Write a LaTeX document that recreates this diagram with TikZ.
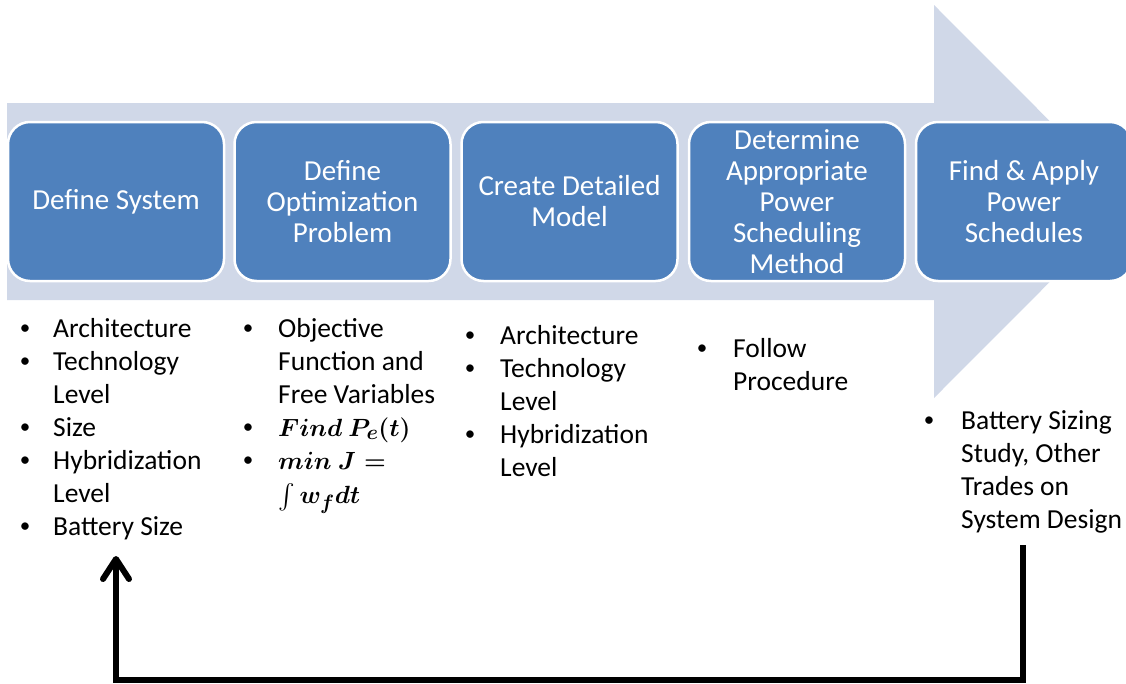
\documentclass[tikz,border=0pt]{standalone}
\usepackage{fontspec}
\setmainfont{Carlito}
\usepackage{amsmath}
\usetikzlibrary{arrows.meta}
\definecolor{bandfill}{HTML}{D0D8E8}
\definecolor{stepfill}{HTML}{4F81BD}
% small list bullet, centred #1 to the left of the item text
\newcommand{\smallbullet}{\raisebox{2.2pt}{\fontsize{21}{21}\selectfont\textbullet}}
\newcommand{\bi}[1]{\llap{\makebox[0pt][c]{\smallbullet}\hspace{#1}}}
\begin{document}
\begin{tikzpicture}[x=1pt,y=-1pt,
  stepbox/.style={draw=white, line width=2.5pt, fill=stepfill, rounded corners=22pt,
    minimum width=216pt, minimum height=159pt, text=white,
    font=\fontsize{29}{31}\selectfont, align=center, inner sep=0pt},
  itemlist/.style={anchor=base west, inner sep=0pt, font=\fontsize{27.5}{33}\selectfont},
  loopline/.style={line width=6pt, line join=miter}]
\useasboundingbox (0,0) rectangle (1126,683);
\clip (0,0) rectangle (1126,683);

% background process arrow
\fill[bandfill] (7,103) -- (934,103) -- (934,5) -- (1130,201.5) -- (934,398)
  -- (934,300) -- (7,300) -- cycle;

% process steps
\node[stepbox] (s1) at (116,201.5) {Define System};
\node[stepbox] (s2) at (342.5,201.5) {Define\\Optimization\\Problem};
\node[stepbox] (s3) at (569.5,201.5) {Create Detailed\\Model};
\node[stepbox] (s4) at (797,201.5) {Determine\\Appropriate\\Power\\Scheduling\\Method};
\node[stepbox] (s5) at (1024,201.5) {Find \& Apply\\Power\\Schedules};

% bullet lists under each step
\node[itemlist] (l1) at (53,337) {\begin{tabular}[t]{@{}l@{}}
\bi{28pt}Architecture\\
\bi{28pt}Technology\\
Level\\
\bi{28pt}Size\\
\bi{28pt}Hybridization\\
Level\\
\bi{28pt}Battery Size
\end{tabular}};
\node[itemlist] (l2) at (278,337) {\begin{tabular}[t]{@{}l@{}}
\bi{30pt}Objective\\
Function and\\
Free Variables\\
\bi{30pt}{\boldmath$Find\ P_e(t)$}\\
\bi{30pt}{\boldmath$min\ J =$}\\[1.5pt]
\smash{\boldmath$\int w_f dt$}
\end{tabular}};
\node[itemlist] (l3) at (500,344) {\begin{tabular}[t]{@{}l@{}}
\bi{30pt}Architecture\\
\bi{30pt}Technology\\
Level\\
\bi{30pt}Hybridization\\
Level
\end{tabular}};
\node[itemlist] (l4) at (733,357) {\begin{tabular}[t]{@{}l@{}}
\bi{31pt}Follow\\
Procedure
\end{tabular}};
\node[itemlist] (l5) at (961,429) {\begin{tabular}[t]{@{}l@{}}
\bi{32pt}Battery Sizing\\
Study, Other\\
Trades on\\
System Design
\end{tabular}};

% feedback loop back to the first step
\coordinate (fbstart) at (1023,545);
\coordinate (fbend) at (116,556);
\draw[loopline, -{Straight Barb[round, length=20pt, width=26pt]}]
  (fbstart) -- ++(0,135) -| (fbend);
\end{tikzpicture}
\end{document}
